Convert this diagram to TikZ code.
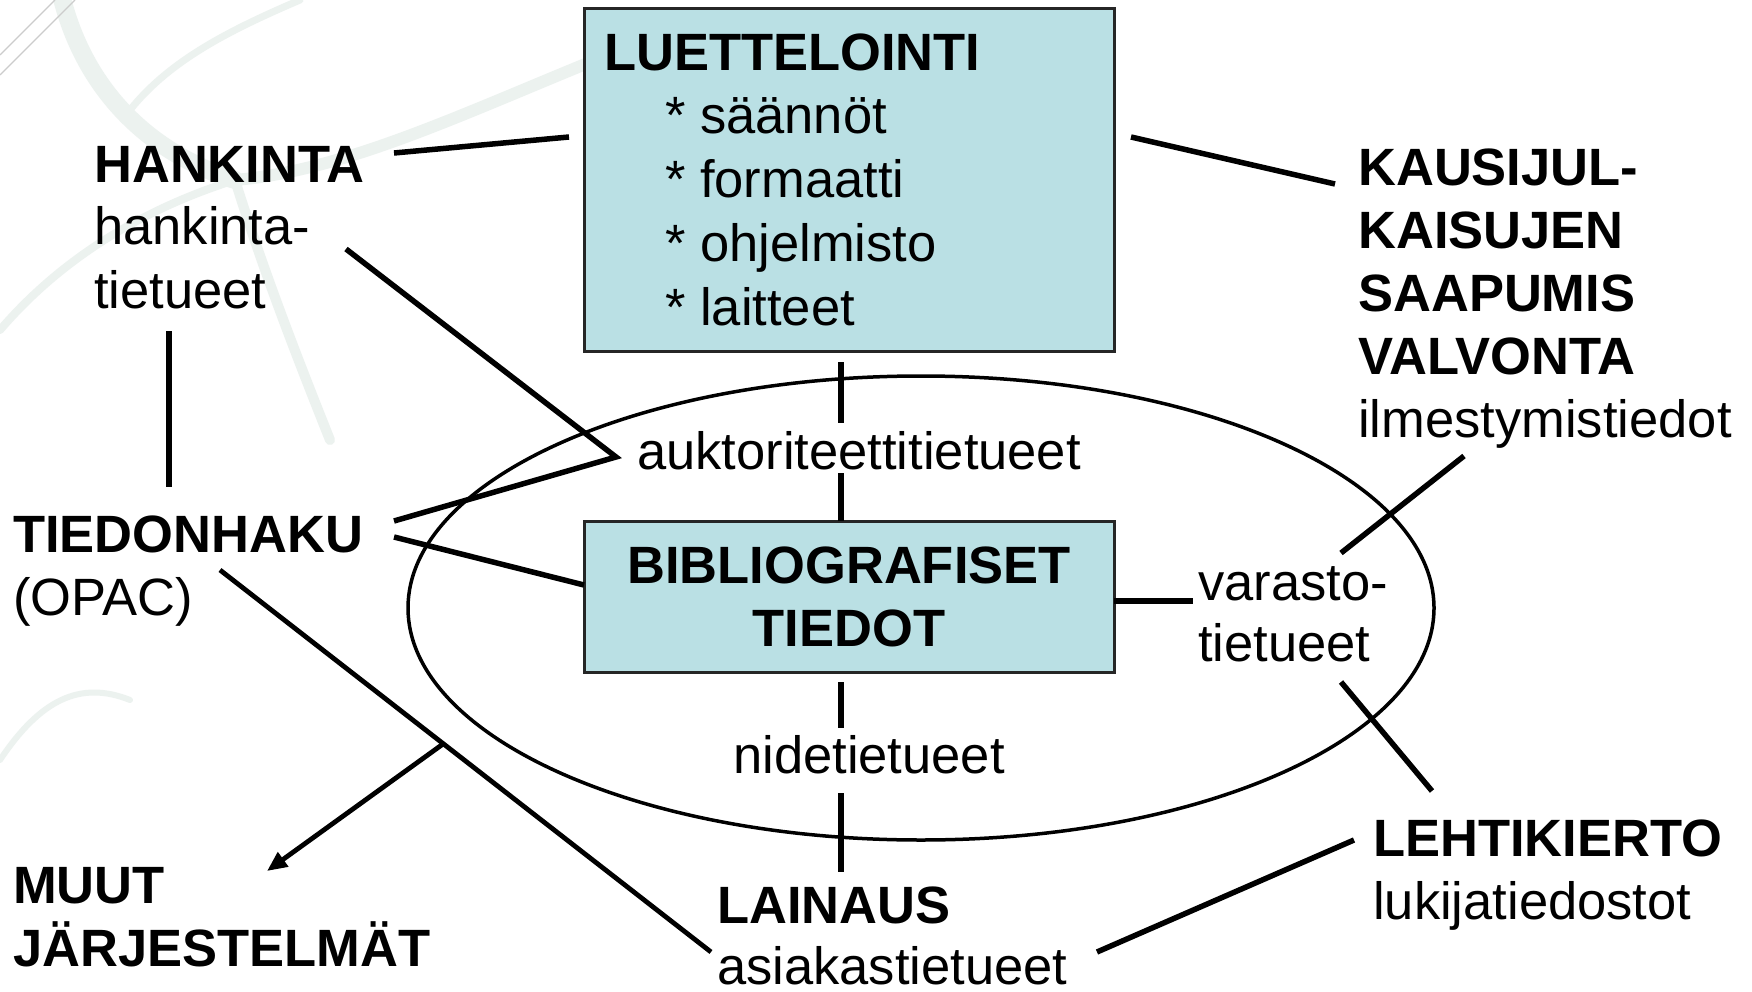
\documentclass[tikz,border=0pt]{standalone}
\usepackage{fontspec}
\setmainfont{Liberation Sans}
\usetikzlibrary{arrows.meta}
\definecolor{boxfill}{RGB}{186,224,228}
\definecolor{treecol}{RGB}{236,242,239}
\begin{document}
\begin{tikzpicture}[x=1pt,y=-1pt,
  conn/.style={line width=5.5pt},
  thinconn/.style={line width=4.8pt},
  bluebox/.style={draw=black!85, line width=3pt, fill=boxfill, inner sep=0pt, outer sep=0pt},
  txt/.style={inner sep=0pt, anchor=base west, align=left, font=\fontsize{52.5}{63.5}\selectfont},
  tree/.style={draw=treecol, line cap=round}]
\useasboundingbox (0,0) rectangle (1752,992);
\fill[white] (0,0) rectangle (1752,992);
% faint background branches
\draw[tree, line width=18pt] (60,-10) .. controls (80,80) and (140,150) .. (235,180);
\draw[tree, line width=12pt] (235,180) .. controls (350,170) and (470,110) .. (620,50);
\draw[tree, line width=10pt] (235,180) .. controls (260,260) and (290,340) .. (330,440);
\draw[tree, line width=8pt] (0,330) .. controls (60,260) and (140,210) .. (235,180);
\draw[tree, line width=7pt] (130,110) .. controls (170,60) and (230,30) .. (300,0);
\draw[tree, line width=6pt] (0,760) .. controls (40,700) and (80,680) .. (130,700);
\draw[gray!40, line width=1.2pt] (0,55) -- (55,0);
\draw[gray!40, line width=1.2pt] (0,75) -- (75,0);
% ellipse
\draw[line width=3.5pt] (921,608) ellipse [x radius=513, y radius=232];
% boxes
\node[bluebox, anchor=north west, minimum width=530pt, minimum height=342pt] (L) at (584,9) {};
\node[txt, font=\fontsize{52.5}{63.75}\selectfont] (Lt) at (604,325)
  {\textbf{LUETTELOINTI}\\\hspace*{61pt}* säännöt\\\hspace*{61pt}* formaatti\\\hspace*{61pt}* ohjelmisto\\\hspace*{61pt}* laitteet};
\node[bluebox, anchor=north west, minimum width=530pt, minimum height=151pt, align=center,
  font=\fontsize{52.5}{63}\selectfont\bfseries] (B) at (584,521) {BIBLIOGRAFISET\\TIEDOT};
% text blocks (anchor at baseline of last line)
\node[txt, font=\fontsize{52.5}{63}\selectfont] (HANK) at (94,308) {\textbf{HANKINTA}\\hankinta-\\tietueet};
\node[txt, font=\fontsize{52.5}{63}\selectfont] (TIED) at (13,615) {\textbf{TIEDONHAKU}\\(OPAC)};
\node[txt, font=\fontsize{52.5}{63}\selectfont] (MUUT) at (13,966) {\textbf{MUUT}\\\textbf{JÄRJESTELMÄT}};
\node[txt, font=\fontsize{52.5}{61}\selectfont] (LAIN) at (717,984) {\textbf{LAINAUS}\\asiakastietueet};
\node[txt, font=\fontsize{52.5}{63}\selectfont] (LEHT) at (1373,919) {\textbf{LEHTIKIERTO}\\lukijatiedostot};
\node[txt, font=\fontsize{52.5}{63}\selectfont] (KAUS) at (1358,437)
  {\textbf{KAUSIJUL-}\\\textbf{KAISUJEN}\\\textbf{SAAPUMIS}\\\textbf{VALVONTA}\\ilmestymistiedot};
\node[txt, font=\fontsize{52.5}{61}\selectfont] (VAR) at (1198,661) {varasto-\\tietueet};
\node[txt] (AUK) at (637,469) {auktoriteettitietueet};
\node[txt] (NID) at (733,773) {nidetietueet};
% connector end points
\coordinate (hk1) at (394,153); \coordinate (lt1) at (569,137);
\coordinate (hk2) at (346,249); \coordinate (tip) at (616,457);
\coordinate (td1) at (394,521);
\coordinate (td2) at (394,537); \coordinate (bl) at (584,585);
\coordinate (hk3) at (169,331); \coordinate (td3) at (169,487);
\coordinate (td4) at (220,570); \coordinate (ln1) at (711,952);
\coordinate (ar1) at (443,744); \coordinate (mu1) at (267,871);
\coordinate (lb1) at (841,362); \coordinate (ak1) at (841,423);
\coordinate (ak2) at (841,473); \coordinate (bt1) at (841,521);
\coordinate (bb1) at (841,682); \coordinate (nd1) at (841,728);
\coordinate (nd2) at (841,793); \coordinate (ln2) at (841,872);
\coordinate (ln3) at (1097,952); \coordinate (lh1) at (1354,840);
\coordinate (lr1) at (1131,137); \coordinate (ks1) at (1335,184);
\coordinate (ks2) at (1464,456); \coordinate (vr1) at (1341,553);
\coordinate (br1) at (1114,601); \coordinate (vr2) at (1193,601);
\coordinate (vr3) at (1341,682); \coordinate (lh2) at (1432,791);
% connectors
\draw[conn] (hk1) -- (lt1);
\draw[conn] (hk2) -- (tip) -- (td1);
\draw[conn] (td2) -- (bl);
\draw[conn] (hk3) -- (td3);
\draw[thinconn] (td4) -- (ln1);
\draw[thinconn, -{Triangle[length=20pt,width=17pt]}] (ar1) -- (mu1);
\draw[conn] (lb1) -- (ak1);
\draw[conn] (ak2) -- (bt1);
\draw[conn] (bb1) -- (nd1);
\draw[conn] (nd2) -- (ln2);
\draw[conn] (ln3) -- (lh1);
\draw[conn] (lr1) -- (ks1);
\draw[conn] (ks2) -- (vr1);
\draw[conn] (br1) -- (vr2);
\draw[conn] (vr3) -- (lh2);
\end{tikzpicture}
\end{document}
